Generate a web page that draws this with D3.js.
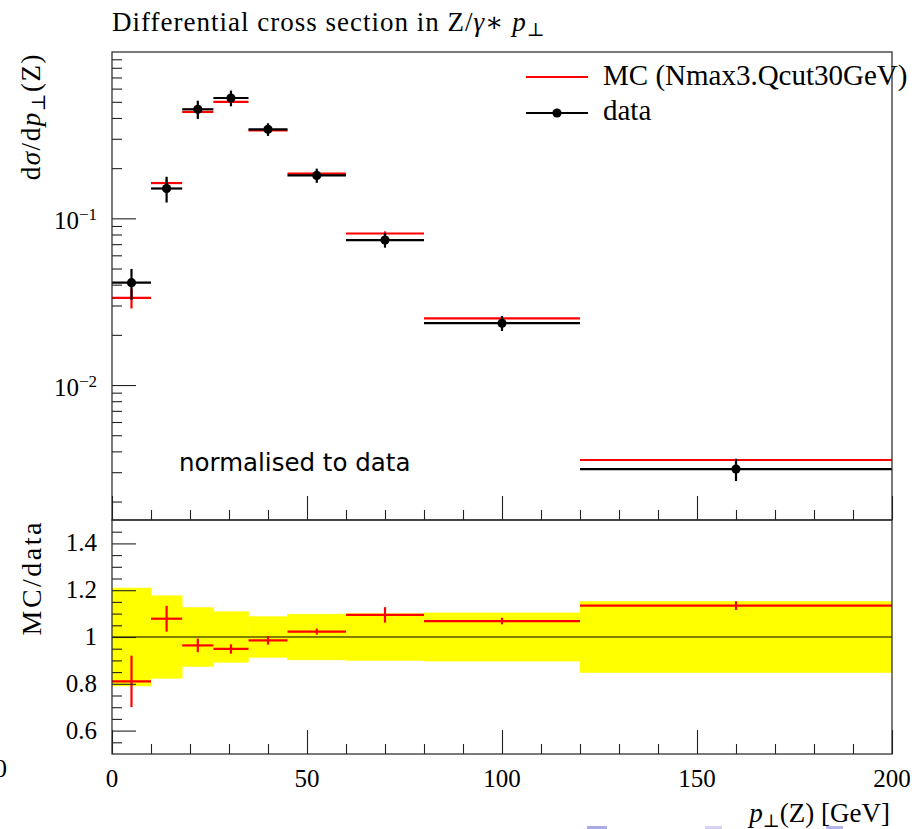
<!DOCTYPE html>
<html>
<head>
<meta charset="utf-8">
<script src="https://cdn.jsdelivr.net/npm/d3@7"></script>
<style>
  html, body { margin: 0; padding: 0; background: #fff; }
  svg { display: block; }
  .serif { font-family: "Liberation Serif", "DejaVu Serif", serif; }
</style>
</head>
<body>
<svg id="chart" width="916" height="829"></svg>
<script>
// ---------------- data ----------------
const binLo   = [0, 10, 18, 26, 35, 45, 60, 80, 120];
const binHi   = [10, 18, 26, 35, 45, 60, 80, 120, 200];
const dataVal = [0.0411, 0.151, 0.451, 0.527, 0.342, 0.181, 0.0741, 0.0235, 0.00313];
const dataErr = [0.0086, 0.0266, 0.0568, 0.0569, 0.0298, 0.0177, 0.0074, 0.00242, 0.000476];
const mcVal   = [0.0333, 0.1628, 0.4348, 0.5001, 0.3372, 0.1852, 0.0811, 0.0251, 0.00355];
const mcErr   = [0.00452, 0.0083, 0.0131, 0.0105, 0.0063, 0.00235, 0.00245, 0.00033, 0.000058];

const xMajorTicks = [0, 50, 100, 150, 200];
const xTickLabels = ["0", "50", "100", "150", "200"];
const xMinorTicks = [10, 20, 30, 40, 60, 70, 80, 90, 110, 120, 130, 140, 160, 170, 180, 190];
const yMainMajor = [0.01, 0.1];
const yMainLabelsExp = ["−2", "−1"];
const yMainMinor = [0.002,0.003,0.004,0.005,0.006,0.007,0.008,0.009,
                    0.02,0.03,0.04,0.05,0.06,0.07,0.08,0.09,
                    0.2,0.3,0.4,0.5,0.6,0.7,0.8,0.9];
const yRatioMajor = [0.6, 0.8, 1.0, 1.2, 1.4];
const yRatioLabels = ["0.6", "0.8", "1", "1.2", "1.4"];
const yRatioMinor = [0.55,0.65,0.7,0.75,0.85,0.9,0.95,1.05,1.1,1.15,1.25,1.3,1.35,1.45];

const legendLabels = ["MC (Nmax3.Qcut30GeV)", "data"];

// ---------------- layout ----------------
const L = 112, R = 892, T = 52, MID = 520, B = 754;
const svg = d3.select("#chart");
svg.append("rect").attr("width", 916).attr("height", 829).attr("fill", "#fff");

const x = d3.scaleLinear().domain([0, 200]).range([L, R]);
const y = d3.scaleLog().domain([0.00155, 0.995]).range([MID, T]);
const yr = d3.scaleLinear().domain([0.5, 1.5]).range([B, MID]);

const defs = svg.append("defs");
defs.append("clipPath").attr("id", "clipMain").append("rect")
  .attr("x", L).attr("y", T).attr("width", R - L).attr("height", MID - T);
defs.append("clipPath").attr("id", "clipRatio").append("rect")
  .attr("x", L).attr("y", MID).attr("width", R - L).attr("height", B - MID);

const idx = d3.range(binLo.length);
const mid = i => (binLo[i] + binHi[i]) / 2;

// ---------------- main panel ----------------
const gMain = svg.append("g").attr("clip-path", "url(#clipMain)");
// MC
const gMC = gMain.append("g").attr("stroke", "#ff0000").attr("stroke-width", 2.2);
gMC.selectAll("line.h").data(idx).join("line").attr("class", "h")
  .attr("x1", i => x(binLo[i])).attr("x2", i => x(binHi[i]))
  .attr("y1", i => y(mcVal[i])).attr("y2", i => y(mcVal[i]));
gMC.selectAll("line.v").data(idx).join("line").attr("class", "v")
  .attr("x1", i => x(mid(i))).attr("x2", i => x(mid(i)))
  .attr("y1", i => y(mcVal[i] - mcErr[i])).attr("y2", i => y(mcVal[i] + mcErr[i]));
// data
const gD = gMain.append("g").attr("stroke", "#000").attr("stroke-width", 2.2);
gD.selectAll("line.h").data(idx).join("line").attr("class", "h")
  .attr("x1", i => x(binLo[i])).attr("x2", i => x(binHi[i]))
  .attr("y1", i => y(dataVal[i])).attr("y2", i => y(dataVal[i]));
gD.selectAll("line.v").data(idx).join("line").attr("class", "v")
  .attr("x1", i => x(mid(i))).attr("x2", i => x(mid(i)))
  .attr("y1", i => y(dataVal[i] - dataErr[i])).attr("y2", i => y(dataVal[i] + dataErr[i]));
gMain.selectAll("circle.pt").data(idx).join("circle").attr("class", "pt")
  .attr("cx", i => x(mid(i))).attr("cy", i => y(dataVal[i])).attr("r", 4.6).attr("fill", "#000");

// ---------------- ratio panel ----------------
const gR = svg.append("g").attr("clip-path", "url(#clipRatio)");
gR.selectAll("rect.band").data(idx).join("rect").attr("class", "band")
  .attr("x", i => x(binLo[i])).attr("width", i => x(binHi[i]) - x(binLo[i]))
  .attr("y", i => yr(1 + dataErr[i] / dataVal[i]))
  .attr("height", i => yr(1 - dataErr[i] / dataVal[i]) - yr(1 + dataErr[i] / dataVal[i]))
  .attr("fill", "#ffff00").attr("stroke", "#ffff00").attr("stroke-width", 0.5);
gR.append("line").attr("x1", L).attr("x2", R).attr("y1", yr(1)).attr("y2", yr(1))
  .attr("stroke", "#000").attr("stroke-width", 1);
const gRM = gR.append("g").attr("stroke", "#ff0000").attr("stroke-width", 2.2);
gRM.selectAll("line.h").data(idx).join("line").attr("class", "h")
  .attr("x1", i => x(binLo[i])).attr("x2", i => x(binHi[i]))
  .attr("y1", i => yr(mcVal[i] / dataVal[i])).attr("y2", i => yr(mcVal[i] / dataVal[i]));
gRM.selectAll("line.v").data(idx).join("line").attr("class", "v")
  .attr("x1", i => x(mid(i))).attr("x2", i => x(mid(i)))
  .attr("y1", i => yr((mcVal[i] - mcErr[i]) / dataVal[i]))
  .attr("y2", i => yr((mcVal[i] + mcErr[i]) / dataVal[i]));

// ---------------- axes / ticks ----------------
function ticks(gen, vals, size, tr) {
  const g = svg.append("g").attr("transform", tr)
    .call(gen.tickValues(vals).tickSize(size).tickFormat(""));
  g.select(".domain").remove();
  g.selectAll("line").attr("stroke", "#222").attr("stroke-width", 1.1);
  return g;
}
ticks(d3.axisRight(y), yMainMajor, 24, `translate(${L},0)`);
ticks(d3.axisRight(y), yMainMinor, 10, `translate(${L},0)`);
ticks(d3.axisTop(x), xMajorTicks, 24, `translate(0,${MID})`);
ticks(d3.axisTop(x), xMinorTicks, 10, `translate(0,${MID})`);
ticks(d3.axisRight(yr), yRatioMajor, 24, `translate(${L},0)`);
ticks(d3.axisRight(yr), yRatioMinor, 10, `translate(${L},0)`);
ticks(d3.axisTop(x), xMajorTicks, 24, `translate(0,${B})`);
ticks(d3.axisTop(x), xMinorTicks, 10, `translate(0,${B})`);

// frames
svg.append("rect").attr("x", L).attr("y", T).attr("width", R - L).attr("height", MID - T)
  .attr("fill", "none").attr("stroke", "#222").attr("stroke-width", 1.2);
svg.append("rect").attr("x", L).attr("y", MID).attr("width", R - L).attr("height", B - MID)
  .attr("fill", "none").attr("stroke", "#222").attr("stroke-width", 1.2);

// ---------------- labels ----------------
const FS = 25;
yMainMajor.forEach((v, k) => {
  const t = svg.append("text").attr("class", "serif").attr("x", 97).attr("y", y(v) + 11)
    .attr("text-anchor", "end").attr("font-size", FS).attr("fill", "#000");
  t.append("tspan").text("10");
  t.append("tspan").attr("dy", -9).attr("font-size", 17).text(yMainLabelsExp[k]);
});
svg.selectAll("text.yrl").data(yRatioMajor).join("text").attr("class", "yrl serif")
  .attr("x", 97).attr("y", v => yr(v) + 8).attr("text-anchor", "end")
  .attr("font-size", FS).text((v, k) => yRatioLabels[k]);
svg.selectAll("text.xl").data(xMajorTicks).join("text").attr("class", "xl serif")
  .attr("x", v => x(v)).attr("y", 787).attr("text-anchor", "middle")
  .attr("font-size", FS).text((v, k) => xTickLabels[k]);

// title
const title = svg.append("text").attr("class", "serif").attr("x", 112).attr("y", 31)
  .attr("font-size", 27).attr("letter-spacing", 1).attr("fill", "#000");
title.append("tspan").text("Differential cross section in Z/");
title.append("tspan").attr("font-style", "italic").text("γ");
title.append("tspan").text("∗ ");
title.append("tspan").attr("font-style", "italic").text("p");
title.append("tspan").attr("dy", 5).attr("font-size", 19).text("⊥");

// y label main
const yl = svg.append("text").attr("class", "serif").attr("transform", "translate(40,53) rotate(-90)")
  .attr("text-anchor", "end").attr("font-size", 27).attr("letter-spacing", 1.5);
yl.append("tspan").text("d");
yl.append("tspan").attr("font-style", "italic").text("σ");
yl.append("tspan").text("/d");
yl.append("tspan").attr("font-style", "italic").text("p");
yl.append("tspan").attr("dy", 5).attr("font-size", 19).text("⊥");
yl.append("tspan").attr("dy", -5).text("(Z)");

// ratio y label
svg.append("text").attr("class", "serif").attr("transform", `translate(41,${MID}) rotate(-90)`)
  .attr("text-anchor", "end").attr("font-size", 28).attr("letter-spacing", 2.5).text("MC/data");

// x label
const xl = svg.append("text").attr("class", "serif").attr("x", 890).attr("y", 822)
  .attr("text-anchor", "end").attr("font-size", 27);
xl.append("tspan").attr("font-style", "italic").text("p");
xl.append("tspan").attr("dy", 5).attr("font-size", 18).text("⊥");
xl.append("tspan").attr("dy", -5).text("(Z) [GeV]");

// legend
svg.append("line").attr("x1", 526).attr("x2", 588).attr("y1", 77).attr("y2", 77)
  .attr("stroke", "#ff0000").attr("stroke-width", 2.2);
svg.append("line").attr("x1", 526).attr("x2", 588).attr("y1", 113).attr("y2", 113)
  .attr("stroke", "#000").attr("stroke-width", 2.2);
svg.append("circle").attr("cx", 557).attr("cy", 113).attr("r", 4.6).attr("fill", "#000");
svg.append("text").attr("class", "serif").attr("x", 603).attr("y", 85).attr("font-size", 29).text(legendLabels[0]);
svg.append("text").attr("class", "serif").attr("x", 603).attr("y", 120).attr("font-size", 29).text(legendLabels[1]);

// annotation
svg.append("text").attr("x", 179).attr("y", 471).attr("font-family", "'DejaVu Sans', Lato, sans-serif")
  .attr("font-size", 24.5).text("normalised to data");

// stray edge artifacts
svg.append("text").attr("class", "serif").attr("x", 7).attr("y", 777).attr("text-anchor", "end")
  .attr("font-size", 26).text("0");
svg.append("rect").attr("x", 587).attr("y", 826).attr("width", 20).attr("height", 3).attr("fill", "#aaaae6");
svg.append("rect").attr("x", 705).attr("y", 826).attr("width", 17).attr("height", 3).attr("fill", "#d4d4f2");
svg.append("rect").attr("x", 826).attr("y", 826).attr("width", 17).attr("height", 3).attr("fill", "#b4b4ea");
</script>
</body>
</html>
